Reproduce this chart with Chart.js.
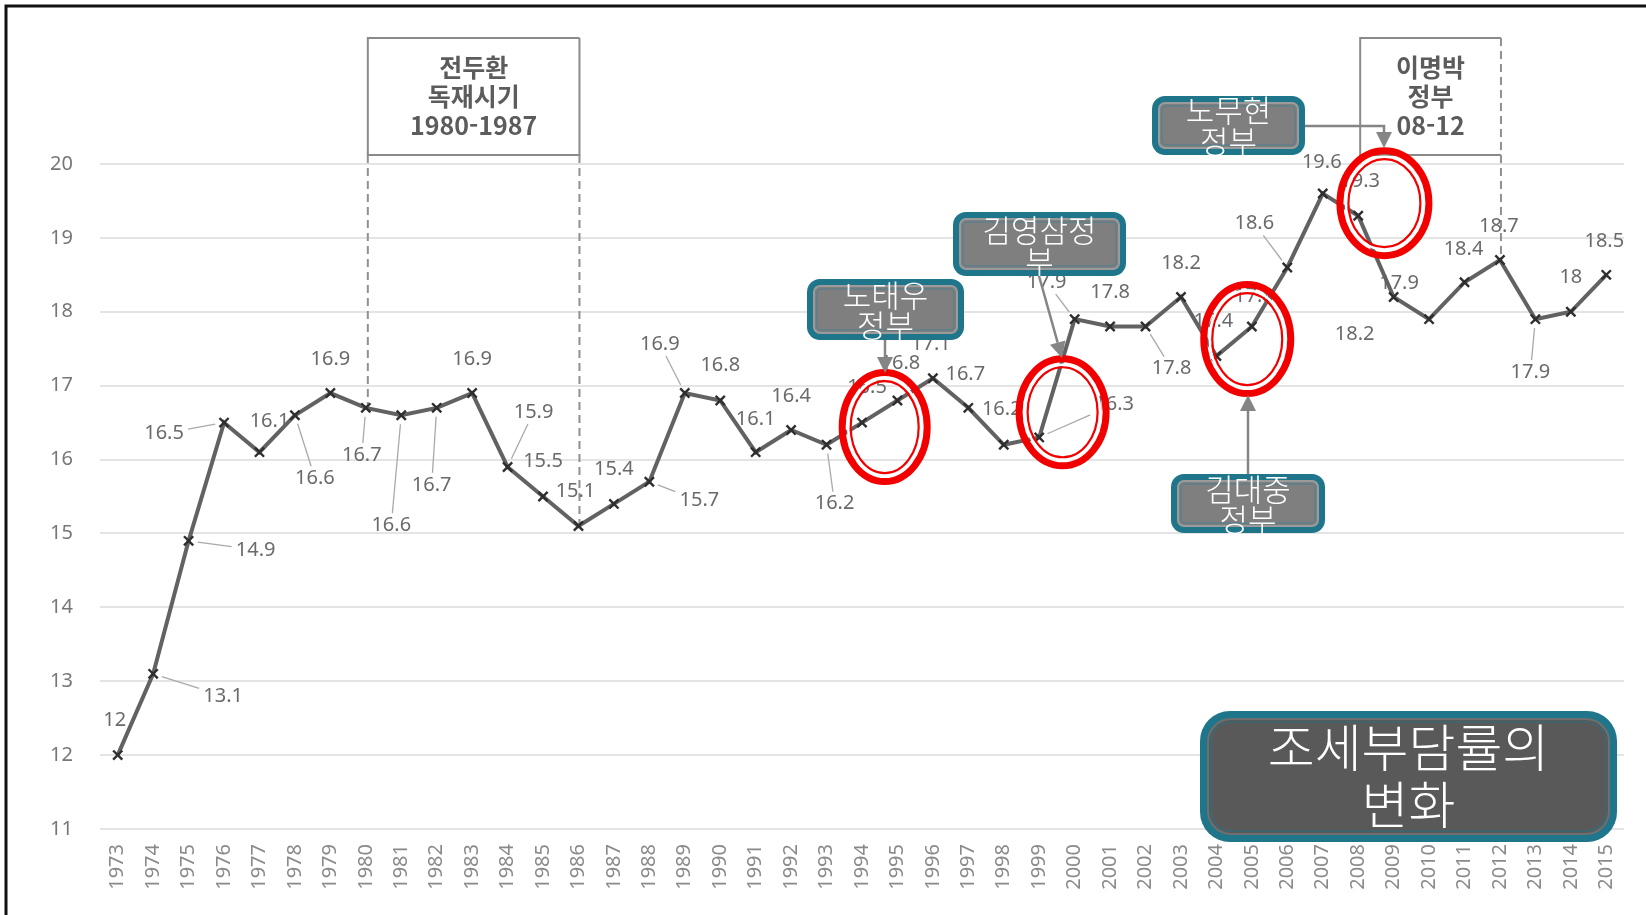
<!DOCTYPE html>
<html lang="ko">
<head>
<meta charset="utf-8">
<title>조세부담률의 변화</title>
<script src="https://cdn.jsdelivr.net/npm/chart.js@4.4.1/dist/chart.umd.min.js"></script>
<style>
  html, body { margin: 0; padding: 0; background: #fff; }
  #chart { display: block; }
</style>
</head>
<body>
<canvas id="chart" width="1646" height="915"></canvas>
<script>
// 조세부담률 (%) 1973-2015
const years = ['1973','1974','1975','1976','1977','1978','1979','1980','1981','1982',
  '1983','1984','1985','1986','1987','1988','1989','1990','1991','1992',
  '1993','1994','1995','1996','1997','1998','1999','2000','2001','2002',
  '2003','2004','2005','2006','2007','2008','2009','2010','2011','2012',
  '2013','2014','2015'];
const taxBurden = [12, 13.1, 14.9, 16.5, 16.1, 16.6, 16.9, 16.7, 16.6, 16.7,
  16.9, 15.9, 15.5, 15.1, 15.4, 15.7, 16.9, 16.8, 16.1, 16.4,
  16.2, 16.5, 16.8, 17.1, 16.7, 16.2, 16.3, 17.9, 17.8, 17.8,
  18.2, 17.4, 17.8, 18.6, 19.6, 19.3, 18.2, 17.9, 18.4, 18.7,
  17.9, 18, 18.5];
const yTicks = [11, 12, 13, 14, 15, 16, 17, 18, 19, 20];

// where each value label sits relative to its point: [dx, dy, leader line]
const labelPlace = [
  [-3,-35,0],[70,22,1],[67,9,1],[-60,11,1],[10,-31,0],[20,63,1],[0,-34,0],[-4,47,1],[-10,110,1],[-5,77,1],
  [0,-34,0],[26,-55,1],[0,-35,0],[-3,-35,0],[0,-35,0],[50,19,1],[-25,-49,1],[0,-35,0],[0,-33,0],[0,-34,0],
  [8,59,1],[5,-35,0],[3,-37,0],[-2,-34,0],[-3,-34,0],[-2,-35,0],[75,-33,1],[-28,-37,1],[0,-34,0],[26,42,1],
  [0,-34,0],[-3,-35,0],[2,-30,0],[-33,-44,1],[-1,-31,0],[2,-34,0],[-39,37,0],[-30,-36,0],[-1,-33,0],[-1,-34,0],
  [-5,53,1],[0,-34,0],[-2,-34,0]
];

// period boxes above the plot
const periods = [
  { lines: ['전두환', '독재시기', '1980-1987'], from: 7, to: 13, dashLeft: true, dashRight: true },
  { lines: ['이명박', '정부', '08-12'], from: 35, to: 39, dashLeft: false, dashRight: true },
];

// government callouts: box, text, arrow path
const callouts = [
  { lines: ['노태우', '정부'], box: [807, 279, 964, 340], ty: [295, 325], arrow: [[885, 340], [885, 373]] },
  { lines: ['김영삼정', '부'], box: [953, 212, 1126, 276], ty: [230, 261], arrow: [[1039, 276], [1062, 358]] },
  { lines: ['김대중', '정부'], box: [1171, 474, 1325, 533], ty: [489, 519], arrow: [[1248, 474], [1248, 395]] },
  { lines: ['노무현', '정부'], box: [1152, 96, 1305, 155], ty: [110, 141], arrow: [[1305, 126], [1384, 126], [1384, 148]] },
];

// red rings, centre in (category index, value), radii in px
const rings = [
  { x: 21.64, y: 16.44, rx: 46, ry: 58 },
  { x: 26.66, y: 16.64, rx: 47, ry: 57 },
  { x: 31.87, y: 17.63, rx: 47, ry: 58 },
  { x: 35.74, y: 19.47, rx: 48, ry: 56 },
];

const TEAL = '#1f768b';
const KFONT = '"Noto Sans CJK KR", "Noto Sans", sans-serif';

function roundRect(ctx, x1, y1, x2, y2, r) {
  ctx.beginPath();
  ctx.roundRect(x1, y1, x2 - x1, y2 - y1, r);
}

function arrowPath(ctx, pts) {
  ctx.save();
  ctx.strokeStyle = '#858585';
  ctx.fillStyle = '#858585';
  ctx.lineWidth = 2.5;
  const last = pts[pts.length - 1], prev = pts[pts.length - 2];
  const ang = Math.atan2(last[1] - prev[1], last[0] - prev[0]);
  const head = 16;
  ctx.beginPath();
  ctx.moveTo(pts[0][0], pts[0][1]);
  for (let i = 1; i < pts.length - 1; i++) ctx.lineTo(pts[i][0], pts[i][1]);
  ctx.lineTo(last[0] - Math.cos(ang) * head, last[1] - Math.sin(ang) * head);
  ctx.stroke();
  ctx.beginPath();
  ctx.moveTo(last[0], last[1]);
  ctx.lineTo(last[0] - Math.cos(ang) * head + Math.sin(ang) * 8, last[1] - Math.sin(ang) * head - Math.cos(ang) * 8);
  ctx.lineTo(last[0] - Math.cos(ang) * head - Math.sin(ang) * 8, last[1] - Math.sin(ang) * head + Math.cos(ang) * 8);
  ctx.closePath();
  ctx.fill();
  ctx.restore();
}

const overlay = {
  id: 'overlay',
  beforeDatasetsDraw(chart) {
    const { ctx, scales: { x, y } } = chart;
    ctx.save();

    // period boxes + dashed guides
    periods.forEach(p => {
      const x1 = x.getPixelForValue(p.from) + 2, x2 = x.getPixelForValue(p.to) + 1;
      const top = 38, bot = 155;
      ctx.fillStyle = '#fff';
      ctx.fillRect(x1, top, x2 - x1, bot - top);
      ctx.strokeStyle = '#8a8a8a';
      ctx.lineWidth = 2;
      ctx.setLineDash([]);
      ctx.beginPath();
      ctx.moveTo(x2, top); ctx.lineTo(x1, top); ctx.lineTo(x1, bot); ctx.lineTo(x2, bot);
      if (!p.dashRight || p.dashLeft) ctx.lineTo(x2, top);
      ctx.stroke();
      ctx.setLineDash([8, 5]);
      ctx.strokeStyle = '#909090';
      if (p.dashLeft) {
        ctx.beginPath();
        ctx.moveTo(x1, bot); ctx.lineTo(x1, y.getPixelForValue(taxBurden[p.from]));
        ctx.stroke();
      }
      if (p.dashRight) {
        ctx.beginPath();
        ctx.moveTo(x2, p.dashLeft ? bot : top); ctx.lineTo(x2, y.getPixelForValue(taxBurden[p.to]));
        ctx.stroke();
      }
      ctx.setLineDash([]);
      ctx.fillStyle = '#5c5c5c';
      ctx.font = 'bold 25px ' + KFONT;
      ctx.textAlign = 'center';
      ctx.textBaseline = 'middle';
      p.lines.forEach((t, i) => ctx.fillText(t, (x1 + x2) / 2, 67 + i * 29));
    });

    // value labels with leader lines
    ctx.font = '20px "Noto Sans", sans-serif';
    ctx.textAlign = 'center';
    ctx.textBaseline = 'middle';
    taxBurden.forEach((v, i) => {
      const px = x.getPixelForValue(i), py = y.getPixelForValue(v);
      const [dx, dy, lead] = labelPlace[i];
      const lx = px + dx, ly = py + dy;
      if (lead) {
        const len = Math.hypot(dx, dy);
        const s = Math.min(dx ? 24 / Math.abs(dx) : 1, dy ? 12 / Math.abs(dy) : 1);
        const sx = px + dx * 9 / len, sy = py + dy * 9 / len;
        const ex = lx - dx * s, ey = ly - dy * s;
        ctx.strokeStyle = '#a9a9a9';
        ctx.lineWidth = 1.3;
        ctx.beginPath();
        ctx.moveTo(sx, sy); ctx.lineTo(ex, ey);
        ctx.stroke();
      }
      ctx.fillStyle = '#6a6a6a';
      ctx.fillText(String(v), lx, ly);
    });
    ctx.restore();
  },
  afterDatasetsDraw(chart) {
    const { ctx, scales: { x, y } } = chart;
    ctx.save();

    // red rings
    rings.forEach(r => {
      const cx = x.getPixelForValue(r.x), cy = y.getPixelForValue(r.y);
      const layers = [[0, 7, '#f20000'], [6, 2.5, '#ffffff'], [8.5, 2.2, '#f20000']];
      layers.forEach(([inset, w, col]) => {
        ctx.strokeStyle = col;
        ctx.lineWidth = w;
        ctx.beginPath();
        ctx.ellipse(cx, cy, r.rx - 3.5 - inset, r.ry - 3.5 - inset, 0, 0, Math.PI * 2);
        ctx.stroke();
      });
    });

    // callouts
    callouts.forEach(c => {
      const [x1, y1, x2, y2] = c.box;
      arrowPath(ctx, c.arrow);
      ctx.fillStyle = TEAL;
      roundRect(ctx, x1, y1, x2, y2, 13);
      ctx.fill();
      ctx.fillStyle = '#7f7f7f';
      roundRect(ctx, x1 + 7, y1 + 7, x2 - 7, y2 - 7, 6);
      ctx.fill();
      ctx.strokeStyle = '#9b9b9b';
      ctx.lineWidth = 2;
      ctx.stroke();
      ctx.strokeStyle = '#4f7f8c';
      ctx.lineWidth = 1;
      roundRect(ctx, x1 + 10, y1 + 10, x2 - 10, y2 - 10, 4);
      ctx.stroke();
      ctx.fillStyle = '#fff';
      ctx.font = '300 31px ' + KFONT;
      ctx.textAlign = 'center';
      ctx.textBaseline = 'middle';
      c.lines.forEach((t, i) => ctx.fillText(t, (x1 + x2) / 2, c.ty[i]));
    });

    // title box
    const bx1 = 1200, by1 = 711, bx2 = 1617, by2 = 842;
    ctx.fillStyle = TEAL;
    roundRect(ctx, bx1, by1, bx2, by2, 30);
    ctx.fill();
    ctx.fillStyle = '#595959';
    roundRect(ctx, bx1 + 8, by1 + 8, bx2 - 8, by2 - 8, 23);
    ctx.fill();
    ctx.strokeStyle = '#6f6f6f';
    ctx.lineWidth = 2;
    ctx.stroke();
    ctx.strokeStyle = '#2e6f80';
    ctx.lineWidth = 1.2;
    roundRect(ctx, bx1 + 11, by1 + 11, bx2 - 11, by2 - 11, 20);
    ctx.stroke();
    ctx.fillStyle = '#fff';
    ctx.font = '300 51px ' + KFONT;
    ctx.textAlign = 'center';
    ctx.textBaseline = 'middle';
    ctx.fillText('조세부담률의', (bx1 + bx2) / 2, 748);
    ctx.fillText('변화', (bx1 + bx2) / 2, 805);
    ctx.restore();
  },
  afterDraw(chart) {
    const { ctx } = chart;
    ctx.save();
    ctx.strokeStyle = '#111';
    ctx.lineWidth = 3;
    ctx.beginPath();
    ctx.moveTo(6, 915); ctx.lineTo(6, 6); ctx.lineTo(1646, 6);
    ctx.stroke();
    ctx.restore();
  }
};

new Chart(document.getElementById('chart'), {
  type: 'line',
  data: {
    labels: years,
    datasets: [{
      data: taxBurden,
      borderColor: '#626262',
      borderWidth: 4,
      tension: 0,
      pointStyle: 'crossRot',
      pointRadius: 6.5,
      pointBorderWidth: 2.4,
      pointBorderColor: '#2e2e2e',
      pointBackgroundColor: '#2e2e2e',
    }]
  },
  options: {
    responsive: false,
    animation: false,
    layout: { padding: { top: 164, right: 22, bottom: 0, left: 0 } },
    plugins: { legend: { display: false }, tooltip: { enabled: false } },
    scales: {
      x: {
        offset: true,
        grid: { display: false, drawTicks: false },
        border: { display: false },
        ticks: {
          autoSkip: false, minRotation: 90, maxRotation: 90, padding: 15,
          color: '#8a8a8a', font: { family: '"Noto Sans", sans-serif', size: 20 }
        },
        afterFit: s => { s.height = 86; }
      },
      y: {
        min: 11, max: 20,
        afterBuildTicks: s => { s.ticks = yTicks.map(v => ({ value: v })); },
        grid: { color: '#e4e4e4', lineWidth: 2, drawTicks: false },
        border: { display: false },
        ticks: {
          padding: 27, color: '#777',
          font: { family: '"Noto Sans", sans-serif', size: 20 }
        },
        afterFit: s => { s.width = 100; }
      }
    }
  },
  plugins: [overlay]
});
</script>
</body>
</html>
